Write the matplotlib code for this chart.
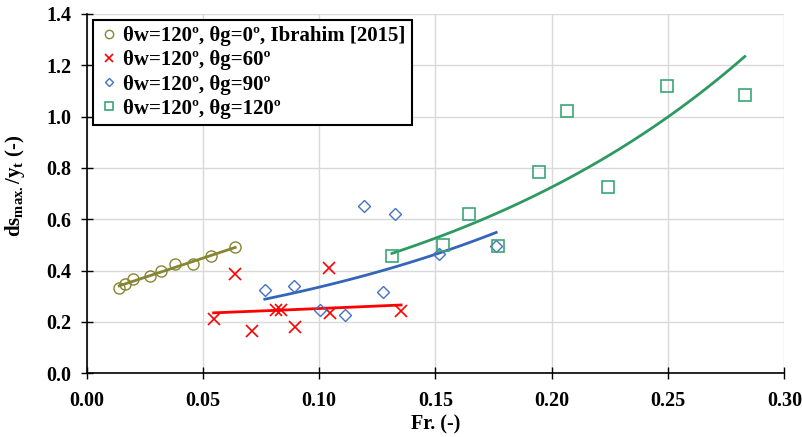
import numpy as np
import matplotlib
matplotlib.use("Agg")
import matplotlib.pyplot as plt

plt.rcParams['font.family'] = ['Liberation Serif', 'DejaVu Serif']
plt.rcParams['font.weight'] = 'bold'
plt.rcParams['mathtext.fontset'] = 'custom'
plt.rcParams['mathtext.rm'] = 'Liberation Serif:bold'
plt.rcParams['mathtext.it'] = 'Liberation Serif:bold'
plt.rcParams['mathtext.bf'] = 'Liberation Serif:bold'

# Data
fr_g0 = [0.0140, 0.0165, 0.0198, 0.0272, 0.0318, 0.0381, 0.0456, 0.0535, 0.0639]
ds_g0 = [0.331, 0.346, 0.367, 0.377, 0.398, 0.426, 0.426, 0.455, 0.491]

fr_g60 = [0.0546, 0.0639, 0.0711, 0.0816, 0.0834, 0.0895, 0.1044, 0.1047, 0.1352]
ds_g60 = [0.210, 0.388, 0.164, 0.248, 0.248, 0.181, 0.411, 0.235, 0.241]

fr_g90 = [0.0766, 0.0892, 0.1003, 0.1112, 0.1193, 0.1276, 0.1328, 0.1516, 0.1761]
ds_g90 = [0.325, 0.338, 0.245, 0.225, 0.650, 0.315, 0.620, 0.465, 0.497]

fr_g120 = [0.1313, 0.1531, 0.1644, 0.1768, 0.1944, 0.2064, 0.2242, 0.2497, 0.2830]
ds_g120 = [0.456, 0.501, 0.622, 0.497, 0.785, 1.021, 0.727, 1.119, 1.083]

labels = ['θw=120º, θg=0º, Ibrahim [2015]', 'θw=120º, θg=60º',
          'θw=120º, θg=90º', 'θw=120º, θg=120º']

fig = plt.figure(figsize=(8.02, 4.37), dpi=100)
ax = fig.add_axes([0.108, 0.146, 0.870, 0.822])

def exp_trend(x, y):
    x = np.asarray(x); y = np.asarray(y)
    b, a = np.polyfit(x, np.log(y), 1)
    xs = np.linspace(x.min(), x.max(), 100)
    return xs, np.exp(a) * np.exp(b * xs)

def lin_trend(x, y):
    x = np.asarray(x); y = np.asarray(y)
    m, c = np.polyfit(x, y, 1)
    xs = np.linspace(x.min(), x.max(), 100)
    return xs, m * xs + c

c_olive = '#858534'
c_red = '#FF0000'
c_blue = '#4472C4'
c_blue_line = '#3465B8'
c_green = '#3AA675'
c_green_line = '#2E9A62'

xs, ys = lin_trend(fr_g0, ds_g0)
ax.plot(xs, ys, color=c_olive, lw=2, zorder=3)
xs, ys = exp_trend(fr_g60, ds_g60)
ax.plot(xs, ys, color=c_red, lw=2, zorder=3)
xs, ys = exp_trend(fr_g90, ds_g90)
ax.plot(xs, ys, color=c_blue_line, lw=2, zorder=3)
xs, ys = exp_trend(fr_g120, ds_g120)
ax.plot(xs, ys, color=c_green_line, lw=2, zorder=3)

ax.plot(fr_g0, ds_g0, 'o', ms=8, mfc='none', mec=c_olive, mew=1, ls='none', label=labels[0], zorder=4)
ax.plot(fr_g60, ds_g60, 'x', ms=8, mec=c_red, mew=1.2, ls='none', label=labels[1], zorder=4)
ax.plot(fr_g90, ds_g90, 'D', ms=6, mfc='none', mec=c_blue, mew=1, ls='none', label=labels[2], zorder=4)
ax.plot(fr_g120, ds_g120, 's', ms=8.5, mfc='none', mec=c_green, mew=1.2, ls='none', label=labels[3], zorder=4)

ax.set_xlim(0, 0.30)
ax.set_ylim(0, 1.4)
ax.set_xticks(np.arange(0, 0.301, 0.05))
ax.set_yticks(np.arange(0, 1.401, 0.2))
ax.set_xticklabels([f'{v:.2f}' for v in np.arange(0, 0.301, 0.05)])
ax.set_yticklabels([f'{v:.1f}' for v in np.arange(0, 1.401, 0.2)])
ax.tick_params(direction='inout', length=8, width=1, labelsize=14.5)
ax.tick_params(axis='x', pad=9)
ax.tick_params(axis='y', pad=7)
ax.grid(True, color='#D9D9D9', lw=1)
ax.set_axisbelow(True)
for s in ['top', 'right']:
    ax.spines[s].set_visible(False)
for s in ['left', 'bottom']:
    ax.spines[s].set_linewidth(1.2)

ax.set_xlabel('Fr. (-)', fontsize=14.5, fontweight='bold')
ax.xaxis.set_label_coords(0.5, -0.115)
ax.set_ylabel(r'ds$_{\rm max.}$/y$_{\rm t}$ (-)', fontsize=15, fontweight='bold')
ax.yaxis.set_label_coords(-0.085, 0.52)

leg = ax.legend(loc='upper left', bbox_to_anchor=(0.003, 0.995), fontsize=15,
                frameon=True, fancybox=False, edgecolor='black', handlelength=0.9,
                handletextpad=0.25, borderpad=0.3, labelspacing=0.2, borderaxespad=0.2,
                markerscale=0.75)
leg.get_frame().set_linewidth(1.5)
leg.get_frame().set_alpha(1)

fig.savefig('out.png', dpi=100)
